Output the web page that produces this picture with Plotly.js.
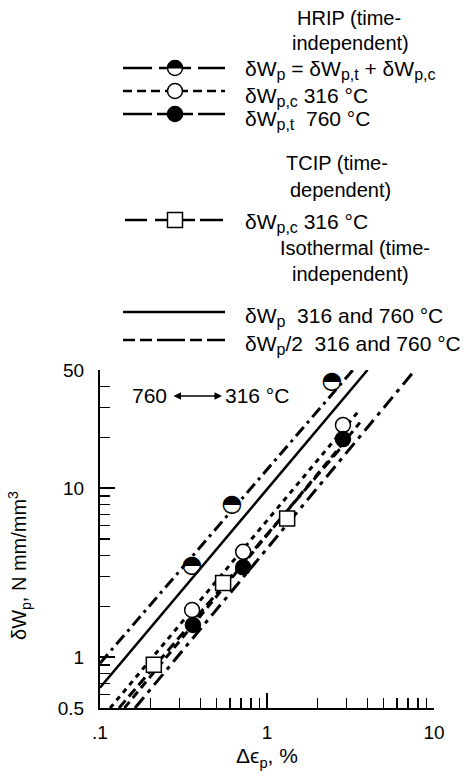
<!DOCTYPE html>
<html><head><meta charset="utf-8">
<script src="https://cdn.plot.ly/plotly-3.0.1.min.js"></script>
<style>html,body{margin:0;padding:0;background:#fff}</style>
</head><body><div id="chart" style="width:473px;height:777px"></div>
<script>
// ---- data ----
const hripX = [0.356, 0.617, 2.45];
const hripY = [3.46, 7.9, 42.5];
const compX = [0.356, 0.72, 2.85];
const compY = [1.90, 4.2, 23.6];
const tensX = [0.36, 0.72, 2.85];
const tensY = [1.55, 3.4, 19.5];
const tcipX = [0.21, 0.546, 1.32];
const tcipY = [0.90, 2.75, 6.6];
// fitted lines (end points)
const hripFitX = [0.1, 3.27];   const hripFitY = [0.92, 50];
const isoFitX = [0.1, 4.0];     const isoFitY = [0.66, 50];
const compFitX = [0.115, 3.5];  const compFitY = [0.5, 28.2];
const tcipFitX = [0.13, 3.0];   const tcipFitY = [0.5, 19];
const tensFitX = [0.14, 3.6];   const tensFitY = [0.5, 24.4];
const isoHalfFitX = [0.162, 7.7]; const isoHalfFitY = [0.5, 50];
// ticks
const xTickVals = [0.1, 1, 10];
const xTickText = ['.1', '1', '10'];
const xMinorVals = [0.2,0.3,0.4,0.5,0.6,0.7,0.8,0.9,2,3,4,5,6,7,8,9];
const yTickVals = [0.5, 1, 10, 50];
const yTickText = ['0.5', '1', '10', '50'];
const yMinorVals = [0.6,0.7,0.8,0.9,2,3,4,5,6,7,8,9,20,30,40];

const FONT = 'Liberation Sans, Arial, sans-serif';
const L = 100, T = 370, W = 334, H = 338;
const px2x = p => (p - L) / W;
const px2y = p => (T + H - p) / H;

function fitLine(x, y, dash, width) {
  return {x: x, y: y, mode: 'lines', type: 'scatter', hoverinfo: 'skip', showlegend: false,
          line: {color: 'black', width: width || 3, dash: dash}};
}
const traces = [
  fitLine(hripFitX, hripFitY, '12px,5px,3px,5px'),
  fitLine(isoFitX, isoFitY, 'solid', 2.5),
  fitLine(compFitX, compFitY, '5px,5px'),
  fitLine(tcipFitX, tcipFitY, '10px,5px'),
  fitLine(tensFitX, tensFitY, '8px,5px'),
  fitLine(isoHalfFitX, isoHalfFitY, '14px,6px,4px,6px'),
  {x: compX, y: compY, mode: 'markers', type: 'scatter', showlegend: false,
   marker: {symbol: 'circle', size: 15, color: 'white', line: {color: 'black', width: 1.5}}},
  {x: tensX, y: tensY, mode: 'markers', type: 'scatter', showlegend: false,
   marker: {symbol: 'circle', size: 15, color: 'black', line: {color: 'black', width: 1.5}}},
  {x: tcipX, y: tcipY, mode: 'markers', type: 'scatter', showlegend: false,
   marker: {symbol: 'square', size: 15, color: 'white', line: {color: 'black', width: 1.5}}},
  {x: hripX, y: hripY, mode: 'markers+text', type: 'scatter', showlegend: false,
   marker: {symbol: 'circle', size: 13, color: 'white', line: {color: 'black', width: 0}},
   text: hripX.map(() => '\u25D3'), textposition: 'middle center',
   textfont: {family: 'DejaVu Sans', size: 24, color: 'black'}}
];

const shapes = [];
const annotations = [];
function seg(x0, x1, y, dash, w) {
  shapes.push({type: 'line', xref: 'paper', yref: 'paper', x0: px2x(x0), x1: px2x(x1), y0: px2y(y), y1: px2y(y),
               line: {color: 'black', width: w || 2.5, dash: dash || 'solid'}});
}
function circ(x, y, fill, lw) {
  shapes.push({type: 'circle', xref: 'paper', yref: 'paper', xsizemode: 'pixel', ysizemode: 'pixel',
               xanchor: px2x(x), yanchor: px2y(y), x0: -7.5, x1: 7.5, y0: -7.5, y1: 7.5,
               fillcolor: fill, line: {color: 'black', width: lw || 1.5}});
}
function halfTop(x, y) {
  circ(x, y, 'white');
  shapes.push({type: 'path', xref: 'paper', yref: 'paper', xsizemode: 'pixel', ysizemode: 'pixel',
               xanchor: px2x(x), yanchor: px2y(y),
               path: 'M-7.5,0 C-7.5,4.14 -4.14,7.5 0,7.5 C4.14,7.5 7.5,4.14 7.5,0 Z',
               fillcolor: 'black', line: {color: 'black', width: 1}});
}
function square(x, y) {
  shapes.push({type: 'rect', xref: 'paper', yref: 'paper', xsizemode: 'pixel', ysizemode: 'pixel',
               xanchor: px2x(x), yanchor: px2y(y), x0: -7.5, x1: 7.5, y0: -7.5, y1: 7.5,
               fillcolor: 'white', line: {color: 'black', width: 1.5}});
}
function txt(text, x, y, anchor, size, angle) {
  annotations.push({text: text, xref: 'paper', yref: 'paper', x: px2x(x), y: px2y(y),
                    xanchor: anchor || 'left', yanchor: 'middle', showarrow: false,
                    textangle: angle || 0,
                    font: {family: FONT, size: size || 21, color: 'black'}});
}
const sb = s => '<sub><span style="font-size:16px">' + s + '</span></sub>';
const NB = '\u00A0';
// legend block
const rowY = [68, 91, 114, 220, 312, 340];
txt('HRIP (time-', 349, 18, 'center', 20);
txt('independent)', 350, 43, 'center', 20);
seg(123, 152, rowY[0]); seg(159, 191, rowY[0]); seg(198, 225, rowY[0]);
halfTop(175, rowY[0]);
txt('\u03B4W' + sb('p') + ' = \u03B4W' + sb('p,t') + ' + \u03B4W' + sb('p,c'), 243, rowY[0] + 2);
seg(123, 225, rowY[1], '9px,5px');
circ(175, rowY[1], 'white');
txt('\u03B4W' + sb('p,c') + NB + '316 \u00B0C', 243, rowY[1] + 6);
seg(123, 152, rowY[2]); seg(157, 193, rowY[2]); seg(198, 225, rowY[2]);
circ(175, rowY[2], 'black');
txt('\u03B4W' + sb('p,t') + NB + NB + '760 \u00B0C', 243, rowY[2] + 6);
txt('TCIP (time-', 337, 163, 'center', 20);
txt('dependent)', 340, 190, 'center', 20);
seg(125, 147, rowY[3]); seg(155, 195, rowY[3]); seg(200, 223, rowY[3]);
square(175, rowY[3]);
txt('\u03B4W' + sb('p,c') + NB + '316 \u00B0C', 243, rowY[3] + 3);
txt('Isothermal (time-', 355, 248, 'center', 20);
txt('independent)', 350, 274, 'center', 20);
seg(123, 225, rowY[4]);
txt('\u03B4W' + sb('p') + NB + NB + '316 and 760 \u00B0C', 243, rowY[4] + 5);
seg(123, 135, rowY[5]); seg(140, 152, rowY[5]); seg(157, 185, rowY[5]); seg(190, 202, rowY[5]); seg(207, 225, rowY[5]);
txt('\u03B4W' + sb('p') + '/2' + NB + NB + '316 and 760 \u00B0C', 243, rowY[5] + 5);

// in-plot note
txt('760', 169, 395, 'right', 21);
txt('316 \u00B0C', 223, 395, 'left', 21);
annotations.push({text: '', xref: 'paper', yref: 'paper', x: px2x(222), y: px2y(396),
                  ax: -50, ay: 0, showarrow: true, arrowhead: 2, startarrowhead: 2,
                  arrowside: 'end+start', arrowsize: 1, arrowwidth: 1.5, arrowcolor: 'black'});
// y-axis title (placed as in the reference, below the axis centre)
txt('\u03B4W<sub>p</sub>, N mm/mm<sup>3</sup>', 19, 566, 'center', 20, -90);

const axisCommon = {
  type: 'log', showgrid: false, zeroline: false, showline: true, linecolor: 'black', linewidth: 2,
  ticks: 'inside', ticklen: 15, tickwidth: 1.5, tickcolor: 'black', tickmode: 'array',
  tickfont: {family: FONT, size: 19, color: 'black'}
};
const layout = {
  width: 473, height: 777, paper_bgcolor: 'white', plot_bgcolor: 'white',
  margin: {l: L, r: 473 - L - W, t: T, b: 777 - T - H},
  showlegend: false,
  xaxis: Object.assign({}, axisCommon, {
    range: [-1, 1], tickvals: xTickVals, ticktext: xTickText, ticklabelstandoff: 6,
    minor: {tickmode: 'array', tickvals: xMinorVals, ticks: 'inside', ticklen: 10, tickwidth: 1.5, tickcolor: 'black', showgrid: false},
    title: {text: '\u0394\u03F5<sub>p</sub>, %', font: {family: FONT, size: 21, color: 'black'}, standoff: 7}
  }),
  yaxis: Object.assign({}, axisCommon, {
    range: [Math.log10(0.5), Math.log10(50)], tickvals: yTickVals, ticktext: yTickText, ticklabelstandoff: 10,
    minor: {tickmode: 'array', tickvals: yMinorVals, ticks: 'inside', ticklen: 10, tickwidth: 1.5, tickcolor: 'black', showgrid: false}
  }),
  shapes: shapes, annotations: annotations
};
Plotly.newPlot('chart', traces, layout, {staticPlot: true});
</script></body></html>
